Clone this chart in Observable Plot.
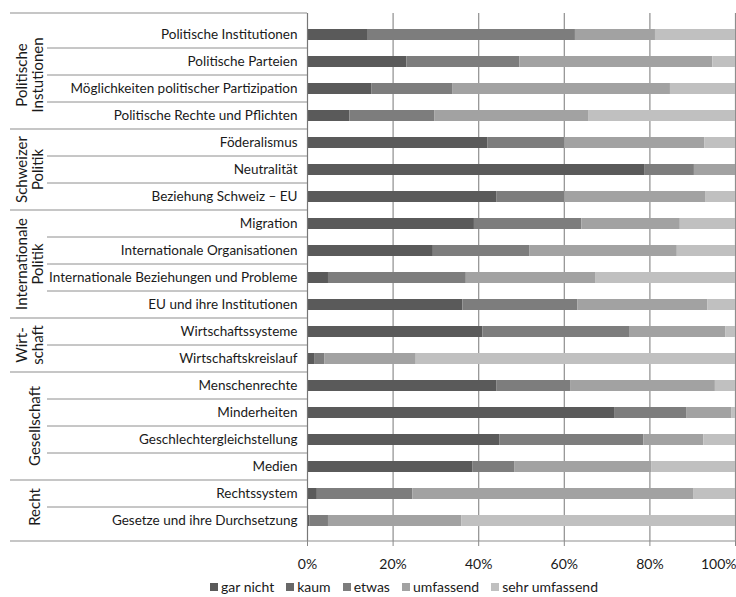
<!DOCTYPE html>
<html>
<head>
<meta charset="utf-8">
<script src="https://cdn.jsdelivr.net/npm/d3@7"></script>
<script src="https://cdn.jsdelivr.net/npm/@observablehq/plot@0.6"></script>
<style>
  body { margin: 0; background: #fff; }
  #chart { width: 736px; }
  g[aria-label^="x-axis"] text { font-size: 14px; }
  g[aria-label^="x-axis"] line, g[aria-label^="x-axis"] path { stroke: #888; }
  .lg-swatch > svg { margin-right: 3px !important; }
  .lg-swatch { margin-right: 12px !important; }
  .lg-swatches-wrap { min-height: 26px !important; }
</style>
</head>
<body>
<div id="chart"></div>
<script>
// Categories (rows, top to bottom)
const topics = [
  "Politische Institutionen",
  "Politische Parteien",
  "Möglichkeiten politischer Partizipation",
  "Politische Rechte und Pflichten",
  "Föderalismus",
  "Neutralität",
  "Beziehung Schweiz – EU",
  "Migration",
  "Internationale Organisationen",
  "Internationale Beziehungen und Probleme",
  "EU und ihre Institutionen",
  "Wirtschaftssysteme",
  "Wirtschaftskreislauf",
  "Menschenrechte",
  "Minderheiten",
  "Geschlechtergleichstellung",
  "Medien",
  "Rechtssystem",
  "Gesetze und ihre Durchsetzung"
];

// Topic groups (labels and number of rows in each group)
const groupLabels = [
  ["Politische", "Instutionen"],
  ["Schweizer", "Politik"],
  ["Internationale", "Politik"],
  ["Wirt-", "schaft"],
  ["Gesellschaft"],
  ["Recht"]
];
const groupSizes = [4, 3, 4, 2, 4, 2];

// Series (percent), one value per topic
const levels = ["gar nicht", "kaum", "etwas", "umfassend", "sehr umfassend"];
const garNicht      = [14.2, 23.2, 15.0,  9.9, 42.1, 78.9, 44.3, 39.0, 29.4,  4.9, 36.3, 41.0,  1.8, 44.3, 71.9, 45.0, 38.6,  2.3,  0.6];
const kaum          = [ 0,    0,    0,    0,    0,    0,    0,    0,    0,    0,    0,    0,    0,    0,    0,    0,    0,    0,    0  ];
const etwas         = [48.4, 26.4, 18.9, 19.9, 18.0, 11.5, 15.8, 25.1, 22.5, 32.2, 26.9, 34.4,  2.3, 17.3, 16.8, 33.6,  9.9, 22.3,  4.3];
const umfassend     = [18.7, 45.1, 50.9, 36.0, 32.7,  9.6, 32.9, 23.0, 34.5, 30.2, 30.3, 22.3, 21.3, 33.7, 10.5, 14.0, 32.0, 65.6, 31.2];
const sehrUmfassend = [18.7,  5.3, 15.2, 34.2,  7.2,  0,    7.0, 12.9, 13.6, 32.7,  6.5,  2.3, 74.6,  4.7,  0.8,  7.4, 19.5,  9.8, 63.9];

const xTicks = [0, 20, 40, 60, 80, 100];

// Styles
const levelColors = ["#5a5a5a", "#686868", "#7d7d7d", "#a2a2a2", "#c0c0c0"];
const lineColor = "#8e8e8e";
const textColor = "#1a1a1a";

const seriesValues = [garNicht, kaum, etwas, umfassend, sehrUmfassend];
const data = topics.flatMap((t, i) =>
  levels.map((l, j) => ({topic: t, level: l, value: seriesValues[j][i]}))
);

// Left-side table structure: row separators, group separators and group labels
function structure(index, scales, values, dims) {
  const y = scales.y;
  const bw = y.bandwidth();
  const step = y.step();
  const x0 = dims.marginLeft;
  const top = dims.marginTop;
  const bottom = dims.height - dims.marginBottom;
  const right = dims.width - dims.marginRight;
  const g = d3.create("svg:g").attr("aria-label", "table structure");
  const groupEnds = new Set();
  let acc = 0;
  groupSizes.forEach(s => { acc += s; groupEnds.add(acc - 1); });
  g.append("line").attr("x1", 10).attr("x2", x0).attr("y1", top).attr("y2", top)
    .attr("stroke", lineColor).attr("stroke-width", 1.2);
  g.append("line").attr("x1", 10).attr("x2", right).attr("y1", bottom).attr("y2", bottom)
    .attr("stroke", lineColor).attr("stroke-width", 1.2);
  topics.forEach((t, i) => {
    if (i === topics.length - 1) return;
    const yb = y(t) + bw / 2 + step / 2;
    g.append("line")
      .attr("x1", groupEnds.has(i) ? 10 : 47).attr("x2", x0)
      .attr("y1", yb).attr("y2", yb)
      .attr("stroke", lineColor).attr("stroke-width", groupEnds.has(i) ? 1.2 : 1);
  });
  let start = 0;
  groupLabels.forEach((lines, k) => {
    const first = topics[start];
    const last = topics[start + groupSizes[k] - 1];
    const yc = (y(first) + y(last)) / 2 + bw / 2;
    const xs = lines.length === 2 ? [21, 37] : [34];
    lines.forEach((txt, m) => {
      g.append("text")
        .attr("transform", `translate(${xs[m]},${yc}) rotate(-90)`)
        .attr("text-anchor", "middle")
        .attr("dominant-baseline", "central")
        .attr("fill", textColor)
        .attr("font-size", 15)
        .text(txt);
    });
    start += groupSizes[k];
  });
  return g.node();
}

const chart = Plot.plot({
  width: 736,
  height: 574,
  marginLeft: 307,
  marginRight: 1,
  marginTop: 13,
  marginBottom: 33,
  style: {fontFamily: "Lato, sans-serif", fontSize: "13.5px", color: textColor, background: "#fff"},
  x: {domain: [0, 100], ticks: xTicks, tickFormat: d => d + "%", tickSize: 5, tickPadding: 13, label: null},
  y: {domain: topics, paddingInner: 0.6, paddingOuter: 0.3, tickSize: 0, tickPadding: 10, label: null},
  color: {domain: levels, range: levelColors},
  marks: [
    Plot.ruleX(xTicks.slice(1), {stroke: lineColor, strokeWidth: 1.2}),
    Plot.barX(data, {x: "value", y: "topic", fill: "level"}),
    Plot.ruleX([0], {stroke: "#777", strokeWidth: 1.2}),
    structure
  ]
});

// keep the last x tick label ("100%") inside the figure, as in the reference
const xLabels = chart.querySelectorAll('g[aria-label^="x-axis"] text');
if (xLabels.length) {
  const lastLabel = xLabels[xLabels.length - 1];
  lastLabel.setAttribute("text-anchor", "end");
  lastLabel.setAttribute("dx", "1");
}

const legend = chart.legend("color", {
  swatchSize: 8,
  className: "lg",
  style: "font-family: Lato, sans-serif; font-size: 14px; line-height: 16px; color: #1a1a1a; justify-content: center; padding-left: 84px; margin: 0; min-height: 26px;"
});

const root = document.getElementById("chart");
root.appendChild(chart);
root.appendChild(legend);
</script>
</body>
</html>
